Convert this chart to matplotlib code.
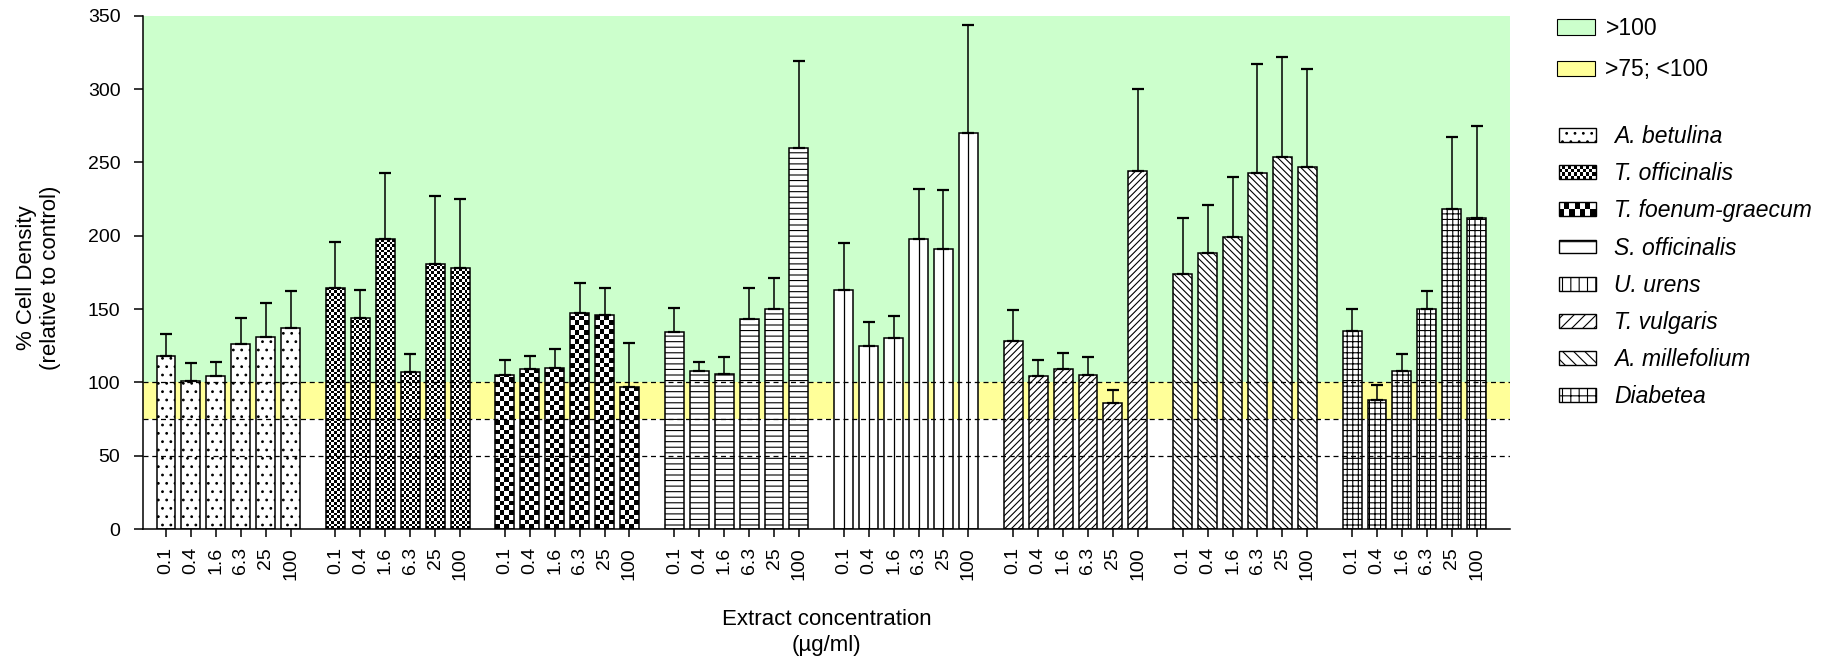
import numpy as np
import matplotlib
matplotlib.use('Agg')
import matplotlib.pyplot as plt
from matplotlib.patches import Patch, Rectangle
from matplotlib.legend_handler import HandlerBase

plt.rcParams['font.family'] = ['Liberation Sans', 'DejaVu Sans']
plt.rcParams['hatch.linewidth'] = 0.8

# data: mean % cell density and upper SD per extract
concentrations = ['0.1', '0.4', '1.6', '6.3', '25', '100']
species = ['A. betulina', 'T. officinalis', 'T. foenum-graecum', 'S. officinalis',
           'U. urens', 'T. vulgaris', 'A. millefolium', 'Diabetea']

betulina_mean = [118, 101, 104, 126, 131, 137]
betulina_sd = [15, 12, 10, 18, 23, 25]
officinalis_t_mean = [164, 144, 198, 107, 181, 178]
officinalis_t_sd = [32, 19, 45, 12, 46, 47]
foenum_mean = [105, 109, 110, 147, 146, 97]
foenum_sd = [10, 9, 13, 21, 18, 30]
officinalis_s_mean = [134, 108, 106, 143, 150, 260]
officinalis_s_sd = [17, 6, 11, 21, 21, 59]
urens_mean = [163, 125, 130, 198, 191, 270]
urens_sd = [32, 16, 15, 34, 40, 74]
vulgaris_mean = [128, 104, 109, 105, 86, 244]
vulgaris_sd = [21, 11, 11, 12, 9, 56]
millefolium_mean = [174, 188, 199, 243, 254, 247]
millefolium_sd = [38, 33, 41, 74, 68, 67]
diabetea_mean = [135, 88, 108, 150, 218, 212]
diabetea_sd = [15, 10, 11, 12, 49, 63]

means = [betulina_mean, officinalis_t_mean, foenum_mean, officinalis_s_mean,
         urens_mean, vulgaris_mean, millefolium_mean, diabetea_mean]
sds = [betulina_sd, officinalis_t_sd, foenum_sd, officinalis_s_sd,
       urens_sd, vulgaris_sd, millefolium_sd, diabetea_sd]

# bar fill style per species: hatch string or ('checker', cells across bar)
bar_styles = ['..', ('checker', 7), ('checker', 4), '---', '', '/////', '\\\\\\\\\\', '+++']
legend_styles = ['..', ('checker', 12, 4), ('checker', 7, 2), '-', '||', '///', '\\\\\\', '++']

green = '#CCFFCC'
yellow = '#FFFF99'

group_step = 6.8
bar_w = 0.76

fig = plt.figure(figsize=(18.4, 6.66), dpi=100)
ax = fig.add_axes([0.0779, 0.2057, 0.7428, 0.7707])

xlim = (-0.91, 53.94)
ylim = (0, 350)
ax.set_xlim(xlim)
ax.set_ylim(ylim)

# pixel scale of data units, for the checker fills
p = ax.transData.transform([(0, 0), (1, 1)])
sx, sy = p[1] - p[0]

ax.axhspan(100, 350, color=green, zorder=0, lw=0)
ax.axhspan(75, 100, color=yellow, zorder=0, lw=0)

all_x = []
for g, (m, s, style) in enumerate(zip(means, sds, bar_styles)):
    x = g * group_step + np.arange(len(m))
    all_x.extend(x)
    if isinstance(style, tuple):
        bars = ax.bar(x, m, width=bar_w, facecolor='none', edgecolor='black', lw=1.1, zorder=3)
        ncell = style[1]
        for rect in bars:
            cw = rect.get_width() / ncell
            ch = cw * sx / sy
            ny = int(np.ceil(rect.get_height() / ch))
            arr = np.add.outer(np.arange(ny), np.arange(ncell)) % 2
            im = ax.imshow(arr, extent=(rect.get_x(), rect.get_x() + ncell * cw, 0, ny * ch),
                           origin='lower', cmap='gray', interpolation='nearest',
                           aspect='auto', zorder=2.5)
            im.set_clip_path(rect)
    else:
        ax.bar(x, m, width=bar_w, color='white', edgecolor='black', hatch=style, lw=1.1, zorder=2)
        if style == '':
            ax.vlines(x, 0, m, color='black', lw=0.9, zorder=2.2)
    ax.errorbar(x, m, yerr=[np.zeros(len(s)), s], fmt='none', ecolor='black',
                elinewidth=1.1, capsize=4.5, capthick=1.6, zorder=3.5)

for yv in [50, 75, 100]:
    ax.axhline(yv, color='black', ls=(0, (4, 3)), lw=0.9, zorder=4)

ax.set_xlim(xlim)
ax.set_ylim(ylim)
ax.set_xticks(all_x)
ax.set_xticklabels(concentrations * len(species), rotation=90, fontsize=14)
ax.set_yticks(np.arange(0, 351, 50))
ax.tick_params(axis='y', labelsize=14, length=6.5, width=1.1, pad=10)
ax.tick_params(axis='x', length=6, width=1.1, pad=7)
for side in ['top', 'right']:
    ax.spines[side].set_visible(False)
for side in ['left', 'bottom']:
    ax.spines[side].set_linewidth(1.1)

ax.set_xlabel('Extract concentration\n(\u00b5g/ml)', fontsize=16, linespacing=1.35)
ax.xaxis.set_label_coords(0.5, -0.155)
ax.set_ylabel('% Cell Density\n(relative to control)', fontsize=16)
ax.yaxis.set_label_coords(-0.06, 0.49)


class CheckerHandler(HandlerBase):
    def __init__(self, ncol, nrow):
        super().__init__()
        self.ncol = ncol
        self.nrow = nrow

    def create_artists(self, legend, orig_handle, xdescent, ydescent, width, height, fontsize, trans):
        w = width / self.ncol
        h = height / self.nrow
        arts = []
        for i in range(self.nrow):
            for j in range(self.ncol):
                if (i + j) % 2 == 0:
                    arts.append(Rectangle((-xdescent + j * w, -ydescent + i * h), w, h,
                                          facecolor='black', edgecolor='none', transform=trans))
        arts.append(Rectangle((-xdescent, -ydescent), width, height, facecolor='none',
                              edgecolor='black', lw=1, transform=trans))
        return arts


leg1 = fig.legend(handles=[Patch(facecolor=green, edgecolor='black', lw=0.8),
                           Patch(facecolor=yellow, edgecolor='black', lw=0.8)],
                  labels=['>100', '>75; <100'], loc='upper left',
                  bbox_to_anchor=(0.846, 0.9745), frameon=False, fontsize=16.5,
                  borderpad=0, borderaxespad=0, handlelength=1.68, handleheight=0.66,
                  handletextpad=0.45, labelspacing=0.8)

handles = []
hmap = {}
for style in legend_styles:
    if isinstance(style, tuple):
        h = Patch(facecolor='white', edgecolor='black')
        hmap[h] = CheckerHandler(style[1], style[2])
    else:
        h = Patch(facecolor='white', edgecolor='black', hatch=style, lw=1)
    handles.append(h)

leg2 = fig.legend(handles=handles, labels=species, handler_map=hmap, loc='upper left',
                  bbox_to_anchor=(0.8472, 0.8123), frameon=False,
                  prop={'style': 'italic', 'size': 16.5},
                  borderpad=0, borderaxespad=0, handlelength=1.6, handleheight=0.55,
                  handletextpad=0.8, labelspacing=0.62)

fig.savefig('out.png', dpi=100)
